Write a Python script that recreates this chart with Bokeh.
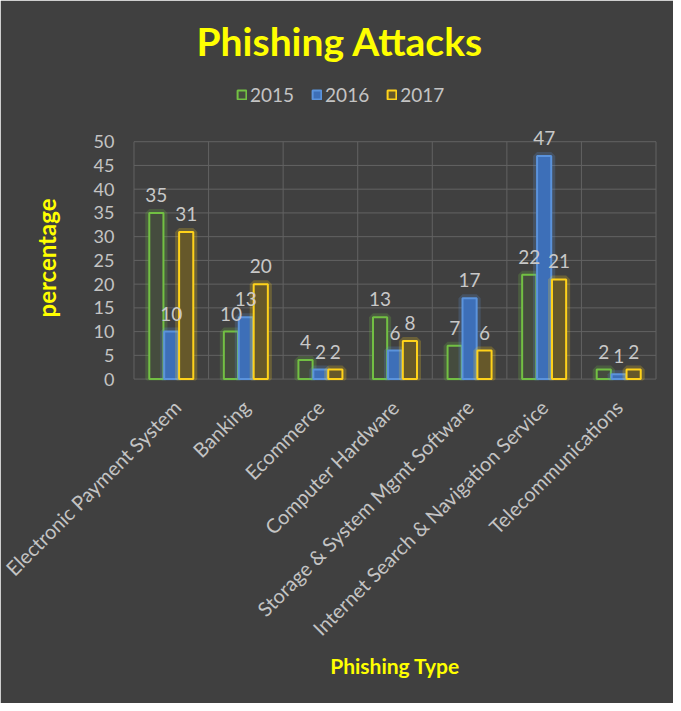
from math import pi
from bokeh.plotting import figure
from bokeh.models import (ColumnDataSource, FixedTicker, Legend, LegendItem,
                          LabelSet, Range1d, Title)
from bokeh.transform import dodge
from bokeh.core.properties import value
from bokeh.embed import file_html
from bokeh.resources import INLINE

categories = ["Electronic Payment System", "Banking", "Ecommerce",
              "Computer Hardware", "Storage & System Mgmt Software",
              "Internet Search & Navigation Service", "Telecommunications"]
years = ["2015", "2016", "2017"]
v2015 = [35, 10, 4, 13, 7, 22, 2]
v2016 = [10, 13, 2, 6, 17, 47, 1]
v2017 = [31, 20, 2, 8, 6, 21, 2]
y_ticks = [0, 5, 10, 15, 20, 25, 30, 35, 40, 45, 50]

n = len(categories)
pos = [i + 0.5 for i in range(n)]
bounds = list(range(n + 1))
Y_END = 65  # frame extends above the 50 line to hold legend and tallest label

src = ColumnDataSource(dict(
    x=pos,
    y2015=v2015, y2016=v2016, y2017=v2017,
    t2015=[str(v) for v in v2015],
    t2016=[str(v) for v in v2016],
    t2017=[str(v) for v in v2017],
))

BG = "#404040"
GRID = "#626262"
FONT = "Lato"
YELLOW = "#ffff00"

# small pad so the edge grid lines sit just inside the frame edge
p = figure(width=673, height=703, x_range=Range1d(-0.02, n + 0.02),
           y_range=Range1d(y_ticks[0] - 0.3, Y_END),
           output_backend="svg", toolbar_location=None,
           min_border_left=132, min_border_right=16,
           min_border_top=70, min_border_bottom=323,
           background_fill_color=BG, border_fill_color=BG,
           outline_line_color=BG, outline_line_width=2)

# title
p.title.text = "Phishing Attacks"
p.title.text_font = FONT
p.title.text_font_style = "bold"
p.title.text_font_size = "39px"
p.title.text_color = YELLOW
p.title.align = "left"
p.title.offset = 64
p.title.standoff = 13

# axes
p.xaxis.ticker = FixedTicker(ticks=pos)
p.xaxis.major_label_overrides = {x: c for x, c in zip(pos, categories)}
p.xaxis.major_label_orientation = pi / 4
p.yaxis.ticker = FixedTicker(ticks=y_ticks)
for ax in (p.xaxis, p.yaxis):
    ax.axis_line_color = None
    ax.major_tick_line_color = None
    ax.minor_tick_line_color = None
    ax.major_label_text_color = "#c4c4c4"
    ax.major_label_text_font = FONT
    ax.axis_label_text_color = YELLOW
    ax.axis_label_text_font = FONT
    ax.axis_label_text_font_style = "bold"
p.xaxis.major_label_text_font_size = "20px"
p.yaxis.major_label_text_font_size = "18px"
p.xaxis.axis_label_text_font_size = "21px"
p.xaxis.major_label_standoff = 17
p.yaxis.major_label_standoff = 12
p.xaxis.axis_label = "Phishing Type"
p.xaxis.axis_label_standoff = 2

# y-axis title, placed along the 0..50 span
ytitle = Title(text="percentage", align="left", offset=63, standoff=59,
               text_font=FONT, text_font_style="bold", text_font_size="24px",
               text_color=YELLOW)
p.add_layout(ytitle, "left")

# grid drawn only over the 0..50 span
p.grid.visible = False
nb = len(bounds)
nt = len(y_ticks)
p.segment(x0=bounds, y0=[y_ticks[0]] * nb, x1=bounds, y1=[y_ticks[-1]] * nb,
          line_color=GRID, line_width=1, level="underlay")
p.segment(x0=[bounds[0]] * nt, y0=y_ticks, x1=[bounds[-1]] * nt, y1=y_ticks,
          line_color=GRID, line_width=1, level="underlay")

series = [
    ("2015", "y2015", "t2015", -0.2, "#72c043", "#454c3e"),
    ("2016", "y2016", "t2016", 0.0, "#5b93dc", "#3d6fb8"),
    ("2017", "y2017", "t2017", 0.2, "#ffd21a", "#66582a"),
]
items = []
for label, col, tcol, off, lc, fc in series:
    xd = dodge("x", off, range=p.x_range)
    p.vbar(x=xd, top=col, width=0.19, source=src, fill_color=None,
           line_color=lc, line_width=8, line_alpha=0.22)
    r = p.vbar(x=xd, top=col, width=0.19, source=src, fill_color=fc,
               line_color=lc, line_width=2)
    items.append(LegendItem(label=label, renderers=[r]))
    p.add_layout(LabelSet(x=xd, y=col, text=tcol, source=src, y_offset=11,
                          text_align="center", text_baseline="bottom",
                          text_font=value(FONT), text_font_size="19px",
                          text_color="#c8c8c8"))

legend = Legend(items=items, orientation="horizontal", location=(104, 274),
                background_fill_alpha=0, border_line_color=None,
                label_text_color="#c4c4c4", label_text_font=FONT,
                label_text_font_size="19px", glyph_width=11, glyph_height=11,
                spacing=17, label_standoff=3, padding=0, margin=0)
p.add_layout(legend, "center")

open("out.html", "w").write(file_html(p, INLINE))
